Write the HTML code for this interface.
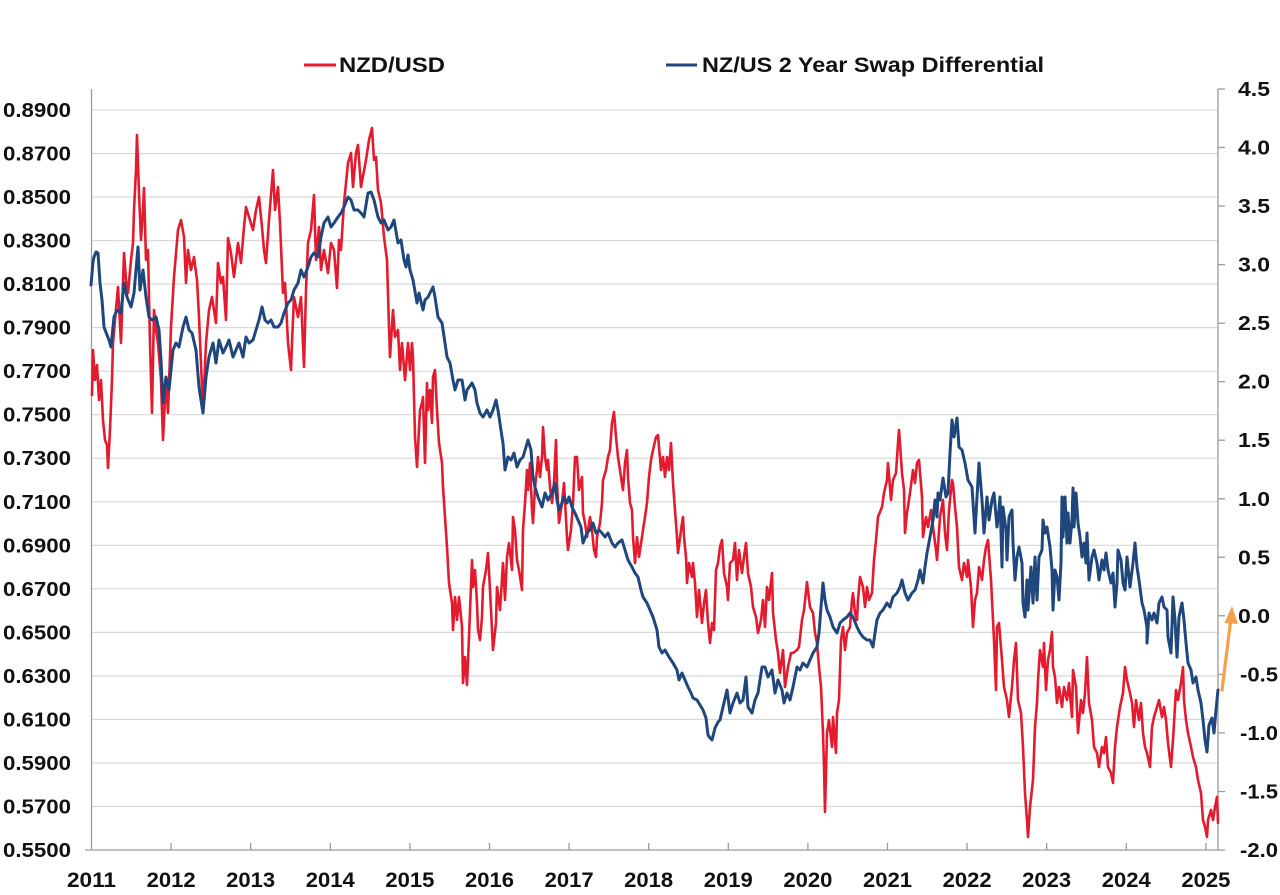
<!DOCTYPE html>
<html>
<head>
<meta charset="utf-8">
<style>
  html,body{margin:0;padding:0;background:#fff;}
  svg{display:block;}
  text{font-family:"Liberation Sans",Arial,sans-serif;font-weight:bold;fill:#111;}
</style>
</head>
<body>
<svg width="1280" height="895" viewBox="0 0 1280 895" xmlns="http://www.w3.org/2000/svg">
  <!-- gridlines -->
  <g stroke="#d9d9d9" stroke-width="1.2">
    <line x1="91" y1="806.5" x2="1218" y2="806.5"/>
    <line x1="91" y1="762.9" x2="1218" y2="762.9"/>
    <line x1="91" y1="719.4" x2="1218" y2="719.4"/>
    <line x1="91" y1="675.9" x2="1218" y2="675.9"/>
    <line x1="91" y1="632.4" x2="1218" y2="632.4"/>
    <line x1="91" y1="588.8" x2="1218" y2="588.8"/>
    <line x1="91" y1="545.3" x2="1218" y2="545.3"/>
    <line x1="91" y1="501.8" x2="1218" y2="501.8"/>
    <line x1="91" y1="458.2" x2="1218" y2="458.2"/>
    <line x1="91" y1="414.7" x2="1218" y2="414.7"/>
    <line x1="91" y1="371.2" x2="1218" y2="371.2"/>
    <line x1="91" y1="327.6" x2="1218" y2="327.6"/>
    <line x1="91" y1="284.1" x2="1218" y2="284.1"/>
    <line x1="91" y1="240.6" x2="1218" y2="240.6"/>
    <line x1="91" y1="197.1" x2="1218" y2="197.1"/>
    <line x1="91" y1="153.5" x2="1218" y2="153.5"/>
    <line x1="91" y1="110.0" x2="1218" y2="110.0"/>
  </g>
  <!-- axes -->
  <g stroke="#9a9a9a" stroke-width="1.3" fill="none">
    <line x1="91.5" y1="89" x2="91.5" y2="850"/>
    <line x1="85" y1="850" x2="1218" y2="850"/>
    <line x1="1218" y1="89" x2="1218" y2="850"/>
    <!-- x ticks -->
    <line x1="171.1" y1="843" x2="171.1" y2="850"/>
    <line x1="250.7" y1="843" x2="250.7" y2="850"/>
    <line x1="330.3" y1="843" x2="330.3" y2="850"/>
    <line x1="409.9" y1="843" x2="409.9" y2="850"/>
    <line x1="489.5" y1="843" x2="489.5" y2="850"/>
    <line x1="569.1" y1="843" x2="569.1" y2="850"/>
    <line x1="648.7" y1="843" x2="648.7" y2="850"/>
    <line x1="728.3" y1="843" x2="728.3" y2="850"/>
    <line x1="807.9" y1="843" x2="807.9" y2="850"/>
    <line x1="887.5" y1="843" x2="887.5" y2="850"/>
    <line x1="967.1" y1="843" x2="967.1" y2="850"/>
    <line x1="1046.7" y1="843" x2="1046.7" y2="850"/>
    <line x1="1126.3" y1="843" x2="1126.3" y2="850"/>
    <line x1="1205.9" y1="843" x2="1205.9" y2="850"/>
    <!-- right ticks -->
    <line x1="1218" y1="89" x2="1225" y2="89"/>
    <line x1="1218" y1="147.5" x2="1225" y2="147.5"/>
    <line x1="1218" y1="206.1" x2="1225" y2="206.1"/>
    <line x1="1218" y1="264.6" x2="1225" y2="264.6"/>
    <line x1="1218" y1="323.2" x2="1225" y2="323.2"/>
    <line x1="1218" y1="381.7" x2="1225" y2="381.7"/>
    <line x1="1218" y1="440.2" x2="1225" y2="440.2"/>
    <line x1="1218" y1="498.8" x2="1225" y2="498.8"/>
    <line x1="1218" y1="557.3" x2="1225" y2="557.3"/>
    <line x1="1218" y1="615.8" x2="1225" y2="615.8"/>
    <line x1="1218" y1="674.4" x2="1225" y2="674.4"/>
    <line x1="1218" y1="732.9" x2="1225" y2="732.9"/>
    <line x1="1218" y1="791.5" x2="1225" y2="791.5"/>
    <line x1="1218" y1="850" x2="1225" y2="850"/>
  </g>

  <!-- left labels -->
  <g font-size="20" text-anchor="start">
    <text x="3" y="117" textLength="68" lengthAdjust="spacingAndGlyphs">0.8900</text>
    <text x="3" y="160.5" textLength="68" lengthAdjust="spacingAndGlyphs">0.8700</text>
    <text x="3" y="204" textLength="68" lengthAdjust="spacingAndGlyphs">0.8500</text>
    <text x="3" y="247.6" textLength="68" lengthAdjust="spacingAndGlyphs">0.8300</text>
    <text x="3" y="291.1" textLength="68" lengthAdjust="spacingAndGlyphs">0.8100</text>
    <text x="3" y="334.6" textLength="68" lengthAdjust="spacingAndGlyphs">0.7900</text>
    <text x="3" y="378.2" textLength="68" lengthAdjust="spacingAndGlyphs">0.7700</text>
    <text x="3" y="421.7" textLength="68" lengthAdjust="spacingAndGlyphs">0.7500</text>
    <text x="3" y="465.2" textLength="68" lengthAdjust="spacingAndGlyphs">0.7300</text>
    <text x="3" y="508.8" textLength="68" lengthAdjust="spacingAndGlyphs">0.7100</text>
    <text x="3" y="552.3" textLength="68" lengthAdjust="spacingAndGlyphs">0.6900</text>
    <text x="3" y="595.8" textLength="68" lengthAdjust="spacingAndGlyphs">0.6700</text>
    <text x="3" y="639.4" textLength="68" lengthAdjust="spacingAndGlyphs">0.6500</text>
    <text x="3" y="682.9" textLength="68" lengthAdjust="spacingAndGlyphs">0.6300</text>
    <text x="3" y="726.4" textLength="68" lengthAdjust="spacingAndGlyphs">0.6100</text>
    <text x="3" y="770" textLength="68" lengthAdjust="spacingAndGlyphs">0.5900</text>
    <text x="3" y="813.5" textLength="68" lengthAdjust="spacingAndGlyphs">0.5700</text>
    <text x="3" y="857" textLength="68" lengthAdjust="spacingAndGlyphs">0.5500</text>
  </g>

  <!-- right labels -->
  <g font-size="20">
    <text x="1238" y="96" textLength="32" lengthAdjust="spacingAndGlyphs">4.5</text>
    <text x="1238" y="154.5" textLength="32" lengthAdjust="spacingAndGlyphs">4.0</text>
    <text x="1238" y="213.1" textLength="32" lengthAdjust="spacingAndGlyphs">3.5</text>
    <text x="1238" y="271.6" textLength="32" lengthAdjust="spacingAndGlyphs">3.0</text>
    <text x="1238" y="330.2" textLength="32" lengthAdjust="spacingAndGlyphs">2.5</text>
    <text x="1238" y="388.7" textLength="32" lengthAdjust="spacingAndGlyphs">2.0</text>
    <text x="1238" y="447.2" textLength="32" lengthAdjust="spacingAndGlyphs">1.5</text>
    <text x="1238" y="505.8" textLength="32" lengthAdjust="spacingAndGlyphs">1.0</text>
    <text x="1238" y="564.3" textLength="32" lengthAdjust="spacingAndGlyphs">0.5</text>
    <text x="1238" y="622.8" textLength="32" lengthAdjust="spacingAndGlyphs">0.0</text>
    <text x="1240" y="681.4" textLength="38" lengthAdjust="spacingAndGlyphs">-0.5</text>
    <text x="1240" y="739.9" textLength="38" lengthAdjust="spacingAndGlyphs">-1.0</text>
    <text x="1240" y="798.5" textLength="38" lengthAdjust="spacingAndGlyphs">-1.5</text>
    <text x="1240" y="857" textLength="38" lengthAdjust="spacingAndGlyphs">-2.0</text>
  </g>

  <!-- x labels -->
  <g font-size="21" text-anchor="middle">
    <text x="91.5" y="887" textLength="49" lengthAdjust="spacingAndGlyphs">2011</text>
    <text x="171.1" y="887" textLength="49" lengthAdjust="spacingAndGlyphs">2012</text>
    <text x="250.7" y="887" textLength="49" lengthAdjust="spacingAndGlyphs">2013</text>
    <text x="330.3" y="887" textLength="49" lengthAdjust="spacingAndGlyphs">2014</text>
    <text x="409.9" y="887" textLength="49" lengthAdjust="spacingAndGlyphs">2015</text>
    <text x="489.5" y="887" textLength="49" lengthAdjust="spacingAndGlyphs">2016</text>
    <text x="569.1" y="887" textLength="49" lengthAdjust="spacingAndGlyphs">2017</text>
    <text x="648.7" y="887" textLength="49" lengthAdjust="spacingAndGlyphs">2018</text>
    <text x="728.3" y="887" textLength="49" lengthAdjust="spacingAndGlyphs">2019</text>
    <text x="807.9" y="887" textLength="49" lengthAdjust="spacingAndGlyphs">2020</text>
    <text x="887.5" y="887" textLength="49" lengthAdjust="spacingAndGlyphs">2021</text>
    <text x="967.1" y="887" textLength="49" lengthAdjust="spacingAndGlyphs">2022</text>
    <text x="1046.7" y="887" textLength="49" lengthAdjust="spacingAndGlyphs">2023</text>
    <text x="1126.3" y="887" textLength="49" lengthAdjust="spacingAndGlyphs">2024</text>
    <text x="1205.9" y="887" textLength="49" lengthAdjust="spacingAndGlyphs">2025</text>
  </g>

  <!-- legend -->
  <line x1="304" y1="65" x2="336" y2="65" stroke="#E31B2F" stroke-width="3"/>
  <text x="339" y="72" font-size="21" textLength="106" lengthAdjust="spacingAndGlyphs">NZD/USD</text>
  <line x1="666" y1="65" x2="697" y2="65" stroke="#1F477D" stroke-width="3"/>
  <text x="702" y="72" font-size="21" textLength="342" lengthAdjust="spacingAndGlyphs">NZ/US 2 Year Swap Differential</text>

  <!-- NZD/USD red -->
  <polyline fill="none" stroke="#E31B2F" stroke-width="2.6" stroke-linejoin="round" stroke-linecap="round" points="
92,395 93,350 95,380 97,365 99,400 101,380 103,420 105,440 107,445 108,468 110,430 112,380 113,343 115,320 118,287 121,343 124,253 126,280 128,293 131,260 133,243 134,210 136,170 137,135 139,193 141,240 143,210 144,188 146,260 148,250 150,343 152,413 154,310 156,330 158,343 161,380 163,440 166,377 168,413 171,327 174,277 178,230 181,220 184,237 186,283 188,250 191,270 194,257 197,280 199,317 203,410 206,343 209,310 212,297 216,323 218,263 221,283 223,277 226,320 228,238 231,253 234,277 238,243 241,263 244,227 246,207 249,217 253,230 256,210 259,197 262,227 264,250 266,263 269,220 273,170 275,210 278,187 280,223 283,293 285,283 288,343 291,370 292,343 294,297 298,317 301,297 304,367 306,290 308,243 311,230 314,195 316,260 319,227 321,270 324,250 328,273 331,243 334,250 337,288 339,240 341,250 344,203 348,163 351,153 353,187 356,153 358,145 361,187 366,160 369,140 372,128 374,160 376,157 378,190 381,203 384,237 387,260 389,327 390,357 393,310 395,337 398,330 400,370 402,343 405,380 408,343 410,370 412,343 413,357 415,437 417,467 420,410 422,403 423,397 425,463 427,383 428,410 430,390 432,423 433,377 435,370 437,410 439,443 442,463 443,487 445,517 447,547 449,583 452,603 453,630 455,597 457,620 459,597 462,627 463,683 465,657 467,685 469,637 472,560 473,587 475,570 477,603 478,630 480,640 482,617 483,587 486,570 488,553 490,590 492,630 493,650 496,623 497,587 500,610 503,563 505,600 507,557 509,543 512,570 513,517 515,530 517,560 519,570 522,590 523,530 525,503 527,470 528,490 530,463 532,510 533,523 535,487 537,470 538,457 540,477 542,457 543,427 545,457 547,470 548,460 550,487 552,503 554,483 556,440 557,483 559,523 562,503 564,483 567,537 568,550 571,530 573,503 575,457 577,457 579,490 582,477 583,513 585,523 587,537 590,517 592,530 594,550 596,557 597,537 600,523 602,503 603,480 606,470 608,457 610,450 612,423 614,412 616,437 618,457 621,477 623,490 625,463 627,450 628,477 630,503 632,510 633,537 635,563 637,537 639,557 642,537 643,530 645,517 647,503 649,477 651,460 653,450 656,437 658,435 661,470 663,457 665,477 667,457 669,470 671,443 673,483 675,510 677,537 678,553 681,530 683,517 684,537 686,557 687,583 689,563 692,577 693,563 695,583 697,617 699,590 702,623 704,603 706,590 708,623 710,643 712,623 714,630 716,570 718,563 720,547 722,540 724,573 727,587 728,600 730,563 733,560 735,543 737,580 739,550 742,573 744,557 746,543 748,573 751,587 753,607 756,617 758,633 761,620 763,600 765,627 767,587 769,600 772,573 773,613 776,640 778,653 780,673 783,650 785,687 788,667 791,653 793,653 797,650 799,647 802,620 804,610 807,582 810,607 813,613 815,633 817,643 819,667 821,687 823,733 824,767 825,812 827,733 829,720 832,747 833,717 836,753 837,713 839,700 841,640 843,627 845,650 847,633 850,627 852,600 853,593 855,613 857,620 858,600 860,577 863,587 865,607 867,587 869,600 872,593 874,560 876,540 878,517 882,507 884,493 887,480 888,463 891,500 893,480 896,473 898,443 899,430 902,473 904,490 905,533 907,513 910,493 913,470 915,483 917,463 919,460 922,497 923,537 926,517 928,527 931,510 933,527 936,550 937,560 940,517 943,500 945,533 947,550 949,510 952,480 953,483 955,507 957,527 959,567 962,580 964,563 967,577 968,560 971,587 973,627 975,600 977,593 979,567 982,580 984,560 986,547 988,540 991,580 993,620 994,640 996,690 997,627 999,623 1002,660 1004,687 1007,700 1009,717 1012,687 1014,660 1016,643 1018,700 1021,713 1023,747 1025,793 1027,820 1028,837 1030,807 1033,780 1035,727 1037,703 1038,680 1040,650 1043,667 1044,643 1046,690 1048,660 1050,650 1052,632 1053,667 1055,677 1057,703 1059,687 1062,707 1064,687 1067,700 1069,683 1072,717 1073,670 1076,687 1078,733 1081,700 1083,713 1085,693 1087,657 1089,703 1092,720 1094,747 1097,753 1099,767 1102,747 1104,753 1106,737 1108,767 1111,773 1113,783 1115,747 1117,727 1120,707 1123,693 1125,667 1127,680 1130,693 1132,703 1134,727 1136,700 1139,720 1141,703 1143,733 1145,747 1147,753 1150,767 1152,727 1154,717 1157,707 1159,700 1162,717 1164,707 1166,720 1168,743 1171,767 1173,740 1176,690 1178,700 1181,683 1183,667 1184,700 1186,720 1188,733 1191,747 1193,757 1196,767 1198,780 1201,793 1203,820 1205,827 1207,837 1208,820 1211,810 1213,820 1215,807 1217,797 1218,823"/>

  <!-- Swap differential blue -->
  <polyline fill="none" stroke="#1F477D" stroke-width="3" stroke-linejoin="round" stroke-linecap="round" points="
91,285 93,262 94,257 96,252 98,253 100,283 102,300 104,327 107,335 109,340 111,347 114,317 117,310 121,313 124,283 127,297 131,307 134,293 136,270 138,247 140,290 143,270 146,297 149,317 152,320 156,317 159,330 161,360 163,403 166,377 169,390 173,350 176,343 179,347 183,327 186,317 189,330 192,333 196,350 199,387 203,413 206,377 209,357 213,343 216,363 219,340 223,353 226,347 229,340 233,357 236,350 239,343 243,357 246,337 249,343 253,340 256,330 259,320 262,307 265,320 268,323 271,320 274,327 278,327 281,323 284,313 288,303 291,300 294,290 298,283 301,270 304,277 308,267 311,257 314,253 318,257 321,237 324,223 328,217 331,227 334,223 338,217 341,213 344,207 348,197 351,200 354,210 358,210 361,213 364,217 368,193 371,192 374,200 378,217 381,223 384,220 388,230 391,227 394,220 398,243 401,240 404,260 406,267 408,255 410,270 413,280 417,303 419,293 423,310 425,300 428,297 433,287 435,297 438,317 442,323 445,343 447,357 450,363 453,380 455,390 458,380 462,380 465,400 467,390 472,383 475,390 477,403 480,413 483,417 487,410 490,417 493,410 496,400 498,410 502,437 503,443 505,470 508,457 511,460 514,453 517,467 520,460 523,457 526,447 528,440 531,450 533,477 535,487 538,497 542,507 545,493 548,500 552,493 555,483 557,500 559,510 562,503 564,497 567,503 569,497 572,507 575,513 578,520 581,527 583,543 587,533 590,530 593,523 596,533 599,530 602,533 605,537 608,533 612,543 615,547 618,543 622,540 625,550 628,560 632,567 635,573 638,577 641,590 643,597 647,603 650,610 653,617 657,630 659,647 662,653 665,650 669,657 673,663 677,670 679,680 682,673 685,680 688,687 691,693 693,698 697,700 700,705 703,710 706,718 708,735 710,738 712,740 715,728 718,722 720,720 723,707 727,690 730,713 733,703 737,693 740,703 743,700 746,677 748,707 752,713 755,700 758,693 762,667 765,667 768,677 772,670 775,693 778,680 782,690 784,703 787,693 790,700 793,687 797,667 800,670 803,663 807,667 810,660 813,653 817,647 819,633 821,607 823,583 825,600 827,610 830,617 833,627 837,633 840,623 843,620 847,617 850,613 853,617 857,627 860,633 863,637 867,640 870,640 873,647 875,633 877,620 880,613 883,610 887,603 890,607 893,597 897,593 900,587 902,580 905,593 908,600 912,593 915,590 918,580 920,570 923,583 925,567 927,553 930,537 933,520 935,500 937,517 938,493 940,500 943,478 946,497 948,493 950,453 952,420 954,437 957,418 959,447 962,450 965,463 968,480 972,487 975,533 977,497 979,463 982,500 984,533 987,497 989,520 992,500 994,493 997,527 999,510 1000,497 1002,567 1003,507 1006,530 1007,560 1009,517 1012,510 1013,543 1015,580 1017,557 1019,547 1022,563 1023,603 1025,617 1027,580 1028,610 1031,567 1033,603 1035,557 1037,600 1039,557 1042,550 1043,520 1045,533 1047,527 1050,547 1052,570 1053,610 1055,570 1057,577 1059,600 1061,563 1062,497 1063,537 1065,497 1067,543 1068,513 1070,543 1072,520 1073,488 1074,527 1076,493 1078,523 1080,537 1082,557 1084,543 1086,563 1087,533 1089,580 1092,557 1094,550 1097,563 1099,580 1102,560 1104,570 1106,553 1108,570 1111,583 1113,573 1115,607 1117,583 1118,550 1121,560 1123,583 1125,590 1127,557 1130,587 1133,563 1135,543 1137,567 1139,580 1142,603 1144,610 1147,627 1147,643 1149,613 1152,620 1154,613 1157,623 1159,603 1162,597 1164,607 1167,610 1168,637 1171,653 1173,597 1175,620 1177,657 1179,617 1182,603 1184,620 1186,643 1188,663 1191,670 1193,683 1196,677 1198,690 1201,703 1203,720 1205,740 1207,752 1209,725 1212,718 1214,733 1216,710 1218,690"/>

  <!-- orange arrow -->
  <line x1="1222" y1="690" x2="1230.5" y2="622" stroke="#F4A04A" stroke-width="3.2" stroke-linecap="round"/>
  <polygon points="1232,606 1224.5,623 1238,624" fill="#F4A04A"/>
</svg>
</body>
</html>
